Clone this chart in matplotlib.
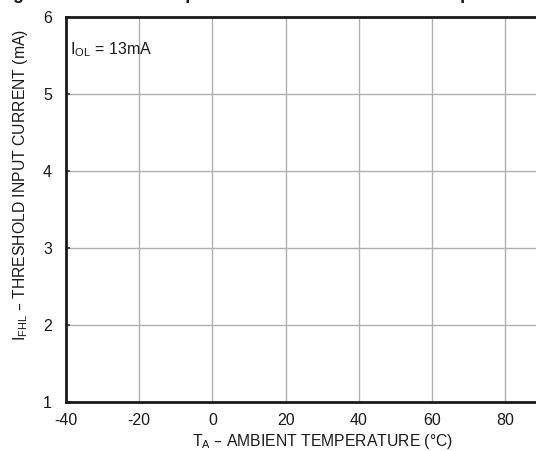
import matplotlib
matplotlib.use("Agg")
import matplotlib.pyplot as plt

plt.rcParams['font.family'] = ['Liberation Sans', 'DejaVu Sans']

x_ticks = [-40, -20, 0, 20, 40, 60, 80]
x_tick_labels = ['-40', '-20', '0', '20', '40', '60', '80']
y_ticks = [1, 2, 3, 4, 5, 6]
y_tick_labels = ['1', '2', '3', '4', '5', '6']
x_range = [-40, 100]
y_range = [1, 6]
annotation = r'I$_{\mathregular{OL}}$ = 13mA'
title = 'Figure 5. Threshold Input Current vs. Ambient Air Temperature'

fig = plt.figure(figsize=(5.36, 4.51), dpi=100)
ax = fig.add_axes([66/536, 1-401.5/451, (140*3.66)/536, (401.5-17)/451])
ax.set_xlim(*x_range)
ax.set_ylim(*y_range)
ax.set_xticks(x_ticks)
ax.set_xticklabels(x_tick_labels)
ax.set_yticks(y_ticks)
ax.set_yticklabels(y_tick_labels)
ax.grid(True, color='#b0b0b0', linewidth=1.0)
ax.set_axisbelow(True)
for s in ['left', 'bottom', 'top', 'right']:
    ax.spines[s].set_linewidth(2.0)
    ax.spines[s].set_color('#1a1a1a')
ax.tick_params(axis='y', direction='in', length=3, width=1.2, color='#333333',
               labelsize=11.5, pad=10, labelcolor='#1a1a1a')
ax.tick_params(axis='x', length=0, labelsize=11.5, pad=8, labelcolor='#1a1a1a')

ax.set_xlabel(r'T$_{\mathregular{A}}$ – AMBIENT TEMPERATURE (°C)', fontsize=11.3,
              color='#1a1a1a', labelpad=3)
ax.set_ylabel(r'I$_{\mathregular{FHL}}$ – THRESHOLD INPUT CURRENT (mA)', fontsize=11.3,
              color='#1a1a1a')
ax.yaxis.set_label_coords(-0.070, 0.563)

ax.text(-39, 5.58, annotation, fontsize=11.5, color='#1a1a1a', va='center', ha='left')

fig.text(-0.005, 1.0 + 1/451, title, fontsize=13, fontweight='bold', color='#1a1a1a',
         ha='left', va='baseline')

fig.savefig('out.png', dpi=100)
